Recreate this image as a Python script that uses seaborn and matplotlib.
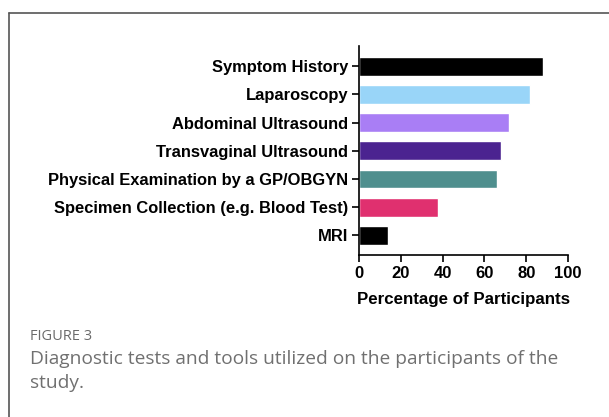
import matplotlib
matplotlib.use("Agg")
import matplotlib.pyplot as plt
import pandas as pd
import seaborn as sns
from matplotlib.lines import Line2D

# Diagnostic tests data (percentage of participants)
tests = ['Symptom History', 'Laparoscopy', 'Abdominal Ultrasound',
         'Transvaginal Ultrasound', 'Physical Examination by a GP/OBGYN',
         'Specimen Collection (e.g. Blood Test)', 'MRI']
percent = [88, 82, 72, 68, 66, 38, 14]
colors = ['#000000', '#99D5F8', '#A97EF5', '#4B2390', '#4F8F8E', '#E0306F', '#000000']
xticks = [0, 20, 40, 60, 80, 100]

df = pd.DataFrame({'Test': tests, 'Percent': percent})

sns.set_style("ticks")
plt.rcParams['font.family'] = ['Liberation Sans', 'DejaVu Sans']
plt.rcParams['text.color'] = 'black'
plt.rcParams['xtick.color'] = 'black'
plt.rcParams['ytick.color'] = 'black'
plt.rcParams['axes.labelcolor'] = 'black'

fig = plt.figure(figsize=(6.09, 4.17), dpi=100)
ax = fig.add_axes([0.5895, 0.3885, 0.3432, 0.5012])

sns.barplot(x='Percent', y='Test', data=df, hue='Test', palette=colors,
            legend=False, width=0.67, ax=ax, saturation=1)

ax.set_xlim(0, 100)
ax.set_ylim(6.7, -0.72)
ax.set_xticks(xticks)
ax.set_xticklabels([str(t) for t in xticks], fontsize=12, fontweight='bold')
ax.set_yticks(range(len(tests)))
ax.set_yticklabels(tests, fontsize=11.9, fontweight='bold')
ax.set_xlabel('Percentage of Participants', fontsize=12.2, fontweight='bold', labelpad=8)
ax.set_ylabel('')
ax.tick_params(axis='both', direction='out', length=5, width=1.2, color='black', pad=3)
for s in ['left', 'bottom']:
    ax.spines[s].set_linewidth(1.2)
    ax.spines[s].set_color('black')
sns.despine(ax=ax)

# outer frame (left and top edges only visible)
fig.add_artist(Line2D([9/609, 9/609], [0, 1 - 13/417], transform=fig.transFigure,
                      color='#555555', lw=1.2))
fig.add_artist(Line2D([9/609, 1], [1 - 13/417, 1 - 13/417], transform=fig.transFigure,
                      color='#555555', lw=1.2))

# caption
fig.text(30/609, 1 - 337/417, 'FIGURE 3', fontsize=10.5, color='#6b6b6b',
         family=['Open Sans', 'DejaVu Sans'], va='center', ha='left')
fig.text(30/609, 1 - 359/417, 'Diagnostic tests and tools utilized on the participants of the',
         fontsize=13.8, color='#707070', family=['Open Sans', 'DejaVu Sans'],
         va='center', ha='left')
fig.text(30/609, 1 - 383/417, 'study.', fontsize=13.8, color='#707070',
         family=['Open Sans', 'DejaVu Sans'], va='center', ha='left')

fig.savefig('out.png', dpi=100)
